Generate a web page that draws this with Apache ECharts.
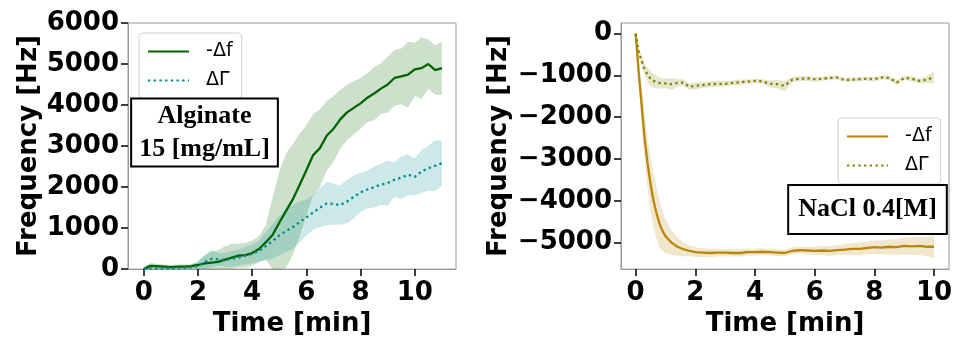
<!DOCTYPE html>
<html>
<head>
<meta charset="utf-8">
<script src="https://cdn.jsdelivr.net/npm/echarts@6/dist/echarts.min.js"></script>
<style>html,body{margin:0;padding:0;background:#fff}#c{width:959px;height:342px}</style>
</head>
<body>
<div id="c"></div>
<script>
// ---------- Left panel: Alginate 15 mg/mL ----------
const timeL = [0,0.25,0.5,0.75,1,1.25,1.5,1.75,2,2.25,2.5,2.75,3,3.25,3.5,3.75,4,4.25,4.5,4.75,5,5.25,5.5,5.75,6,6.25,6.5,6.75,7,7.25,7.5,7.75,8,8.25,8.5,8.75,9,9.25,9.5,9.75,10,10.25,10.5,10.75,11];
const dfMeanL = [0,80,70,60,50,60,60,70,100,140,160,175,230,280,330,340,390,490,650,830,1130,1420,1700,2050,2410,2780,2950,3250,3420,3650,3820,3930,4040,4180,4280,4400,4500,4660,4700,4740,4870,4900,5000,4850,4900];
const dfSdL   = [50,70,60,50,50,50,60,50,100,200,260,290,330,340,290,300,310,320,420,900,1250,1400,1350,1250,1100,1000,950,850,800,720,680,650,620,600,650,620,680,680,680,800,650,750,600,600,650];
const dgMeanL = [0,10,10,10,20,20,30,40,80,170,250,240,220,250,280,330,370,440,560,680,820,930,1020,1150,1260,1380,1500,1600,1590,1560,1650,1760,1870,1940,2000,2060,2100,2180,2230,2300,2250,2380,2460,2520,2580];
const dgSdL   = [30,40,40,40,40,50,40,40,100,170,220,150,170,190,200,210,230,260,340,420,480,520,530,500,440,420,480,530,500,480,530,530,480,460,500,500,550,420,520,500,450,520,550,620,550];

// ---------- Right panel: NaCl 0.4 M ----------
const timeR = [0,0.1,0.2,0.3,0.4,0.5,0.6,0.7,0.8,0.9,1,1.2,1.4,1.6,1.8,2,2.25,2.5,2.75,3,3.25,3.5,3.75,4,4.25,4.5,4.75,5,5.25,5.5,5.75,6,6.25,6.5,6.75,7,7.25,7.5,7.75,8,8.25,8.5,8.75,9,9.25,9.5,9.75,10];
const dfMeanR = [0,-900,-1700,-2500,-3100,-3600,-4000,-4300,-4550,-4720,-4850,-5000,-5100,-5160,-5200,-5230,-5240,-5250,-5240,-5240,-5250,-5250,-5230,-5230,-5220,-5230,-5240,-5250,-5200,-5180,-5190,-5200,-5190,-5200,-5180,-5170,-5150,-5150,-5130,-5110,-5120,-5100,-5110,-5080,-5090,-5080,-5100,-5100];
const dfSdR   = [0,300,450,550,600,650,650,620,560,480,400,290,220,170,130,115,105,105,95,90,90,90,80,80,80,80,80,80,80,80,90,100,110,120,120,130,140,150,150,160,170,180,190,200,210,220,230,270];
const dgMeanR = [0,-420,-650,-850,-980,-1080,-1130,-1160,-1180,-1190,-1190,-1210,-1180,-1170,-1270,-1250,-1230,-1210,-1200,-1200,-1180,-1160,-1150,-1130,-1140,-1200,-1210,-1250,-1100,-1080,-1070,-1090,-1080,-1060,-1050,-1110,-1100,-1090,-1080,-1090,-1050,-1060,-1170,-1060,-1080,-1130,-1100,-1040];
const dgSdR   = [0,80,130,150,170,180,170,150,130,120,110,140,90,80,70,80,70,70,70,60,60,60,50,50,50,80,100,120,60,60,60,60,50,50,50,50,50,50,50,50,50,50,60,50,60,60,80,150];

const ticksX = [0,2,4,6,8,10];
const ticksYL = [0,1000,2000,3000,4000,5000,6000];
const ticksYR = [-5000,-4000,-3000,-2000,-1000,0];

const FONT = 'DejaVu Sans';
const chart = echarts.init(document.getElementById('c'), null, {renderer:'canvas'});

function pairs(xs, ys){ return xs.map((x,i)=>[x, ys[i]]); }
function bandSeries(xs, mean, sd, color, gi, yMin, yMax){
  const rows = xs.map((x,i)=>[x, mean[i]-sd[i], mean[i]+sd[i]]);
  const cl = v => Math.max(yMin, Math.min(yMax, v));
  const fill = echarts.color.modifyAlpha(color, 0.2);
  return {type:'custom', xAxisIndex:gi, yAxisIndex:gi, silent:true, z:1, clip:true,
    data: rows, encode:{x:0, y:[1,2]},
    renderItem: function(params, api){
      if (params.dataIndex !== 0) return null;
      const top = rows.map(r=>api.coord([r[0], cl(r[2])]));
      const bot = rows.map(r=>api.coord([r[0], cl(r[1])])).reverse();
      return {type:'polygon', shape:{points: top.concat(bot)}, style:{fill:fill, stroke:null}};
    }};
}
function lineSeries(name, xs, ys, color, dotted, gi){
  return {type:'line', name:name, xAxisIndex:gi, yAxisIndex:gi, symbol:'none', showSymbol:false, z:3, clip:true,
          data:pairs(xs, ys), lineStyle:{color:color, width:2.3, type: dotted ? [2.3,3.4] : 'solid'}, itemStyle:{color:color}};
}
const minus = v => String(v).replace('-', '\u2212');

function xAxis(gi, min, max){
  return {type:'value', gridIndex:gi, position:'bottom', min:min, max:max, name:'Time [min]', nameLocation:'middle', nameGap:40,
    nameTextStyle:{fontFamily:FONT, fontWeight:'bold', fontSize:26, color:'#000'},
    axisLine:{show:true, onZero:false, lineStyle:{color:'#999', width:1}}, splitLine:{show:false},
    axisTick:{show:true, length:7, lineStyle:{color:'#000', width:1.5}, customValues:ticksX},
    axisLabel:{fontFamily:FONT, fontWeight:'bold', fontSize:26, color:'#000', margin:11, customValues:ticksX}};
}
function yAxis(gi, min, max, ticks, gap){
  return {type:'value', gridIndex:gi, position:'left', min:min, max:max, name:'Frequency [Hz]', nameLocation:'middle', nameGap:gap,
    nameTextStyle:{fontFamily:FONT, fontWeight:'bold', fontSize:26, color:'#000'},
    axisLine:{show:true, onZero:false, lineStyle:{color:'#999', width:1}}, splitLine:{show:false},
    axisTick:{show:true, length:7, lineStyle:{color:'#000', width:1.5}, customValues:ticks},
    axisLabel:{fontFamily:FONT, fontWeight:'bold', fontSize:26, color:'#000', margin:9, customValues:ticks, formatter:minus}};
}
// tick-only companion axes (same scale, same side)
function tickAxis(gi, pos, min, max, ticks){
  return {type:'value', gridIndex:gi, position:pos, offset:0, min:min, max:max,
    axisLine:{show:false, onZero:false}, splitLine:{show:false},
    axisTick:{show:true, length:7, lineStyle:{color:'#000', width:1.5}, customValues:ticks},
    axisLabel:{show:false, customValues:ticks}};
}
function legend(left, top, names){
  return {left:left, top:top, orient:'vertical', padding:[9,9,9,8], itemGap:10, itemWidth:41, itemHeight:14,
    backgroundColor:'#fff', borderColor:'#d0d0d0', borderWidth:1, borderRadius:4,
    itemStyle:{color:'transparent', borderColor:'transparent', borderWidth:0},
    textStyle:{fontFamily:FONT, fontSize:19, color:'#000'},
    formatter: n => '  ' + n.trim(),
    data: names};
}
function annot(cx, cy, text, pad){
  return {type:'text', x:cx, y:cy, z:100,
    style:{text:text, align:'center', verticalAlign:'middle', fill:'#000',
      font:'bold 26px "Liberation Serif"', lineHeight:33, backgroundColor:'#fff', borderColor:'#000', borderWidth:2, padding:pad}};
}

const cG = '#006400', cT = '#008b8b', cGold = '#b8860b', cOl = '#808000';
const option = {
  animation:false,
  grid:[
    {left:128, top:23, width:328, height:256, show:true, borderColor:'#999', borderWidth:1},
    {left:621, top:23, width:328, height:256, show:true, borderColor:'#999', borderWidth:1}
  ],
  xAxis:[xAxis(0, -0.58, 11.52), xAxis(1, -0.49, 10.5),
         tickAxis(0, 'bottom', -0.58, 11.52, ticksX), tickAxis(1, 'bottom', -0.49, 10.5, ticksX)],
  yAxis:[yAxis(0, 0, 6000, ticksYL, 84), yAxis(1, -5635, 255, ticksYR, 109),
         tickAxis(0, 'left', 0, 6000, ticksYL), tickAxis(1, 'left', -5635, 255, ticksYR)],
  legend:[
    legend(139, 33, ['-\u0394f','\u0394\u0393']),
    legend(838, 118, ['-\u0394f ','\u0394\u0393 '])
  ],
  graphic:[
    annot(204.5, 132.5, 'Alginate\n15 [mg/mL]', [0,7]),
    annot(867.5, 209.5, 'NaCl 0.4[M]', [7,9])
  ],
  series:[
    bandSeries(timeL, dfMeanL, dfSdL, cG, 0, 0, 6000),
    bandSeries(timeL, dgMeanL, dgSdL, cT, 0, 0, 6000),
    lineSeries('-\u0394f', timeL, dfMeanL, cG, false, 0),
    lineSeries('\u0394\u0393', timeL, dgMeanL, cT, true, 0),
    bandSeries(timeR, dfMeanR, dfSdR, cGold, 1, -5635, 255),
    bandSeries(timeR, dgMeanR, dgSdR, cOl, 1, -5635, 255),
    lineSeries('-\u0394f ', timeR, dfMeanR, cGold, false, 1),
    lineSeries('\u0394\u0393 ', timeR, dgMeanR, cOl, true, 1)
  ]
};
chart.setOption(option);
</script>
</body>
</html>
